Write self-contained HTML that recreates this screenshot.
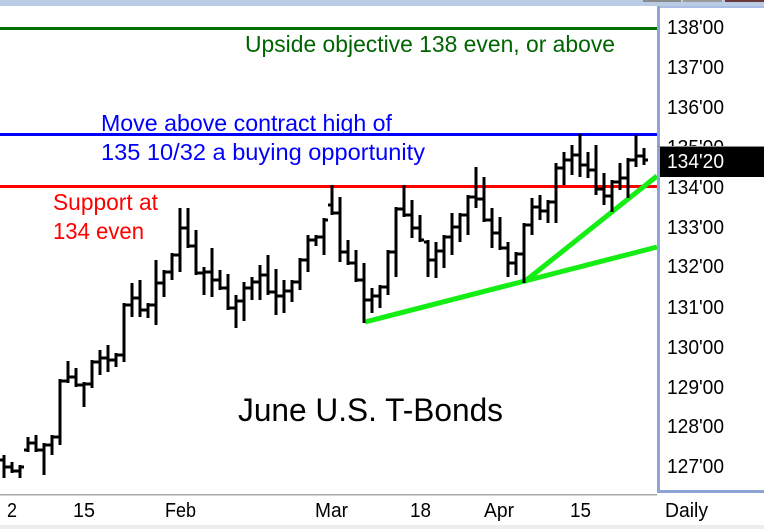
<!DOCTYPE html>
<html>
<head>
<meta charset="utf-8">
<style>
html,body{margin:0;padding:0;background:#fff;}
svg{display:block;}
text{font-family:"Liberation Sans",sans-serif;}
</style>
</head>
<body>
<svg width="764" height="529" viewBox="0 0 764 529" xmlns="http://www.w3.org/2000/svg">
<rect x="0" y="0" width="764" height="529" fill="#ffffff"/>
<rect x="0" y="0" width="764" height="6" fill="#b9cce4"/>
<rect x="643" y="0" width="38" height="2" fill="#8a8a8a"/>
<rect x="683" y="0" width="39" height="2" fill="#9a9a9a"/>
<rect x="725" y="0" width="39" height="2" fill="#6a3838"/>

<rect x="0" y="27" width="657" height="3" fill="#007000"/>
<rect x="0" y="133" width="657" height="3" fill="#0000ff"/>
<rect x="0" y="185" width="657" height="3" fill="#ff0000"/>

<text x="245" y="52" font-size="23" fill="#006400" textLength="370" lengthAdjust="spacingAndGlyphs">Upside objective 138 even, or above</text>
<text x="101" y="131" font-size="23" fill="#0000ff" textLength="291" lengthAdjust="spacingAndGlyphs">Move above contract high of</text>
<text x="101" y="160" font-size="23" fill="#0000ff" textLength="324" lengthAdjust="spacingAndGlyphs">135 10/32 a buying opportunity</text>
<text x="53" y="210" font-size="23" fill="#ff0000" textLength="105" lengthAdjust="spacingAndGlyphs">Support at</text>
<text x="53" y="239" font-size="23" fill="#ff0000" textLength="91" lengthAdjust="spacingAndGlyphs">134 even</text>
<text x="238" y="421" font-size="32" fill="#000000" textLength="265" lengthAdjust="spacingAndGlyphs">June U.S. T-Bonds</text>

<line x1="365" y1="322" x2="657" y2="247" stroke="#14ee14" stroke-width="5"/>
<line x1="524" y1="282" x2="657" y2="176" stroke="#14ee14" stroke-width="5"/>

<path fill="none" stroke="#000" stroke-width="3" shape-rendering="crispEdges" d="M4 455V478M0 460H4M4 467H8 M12 462V473M8 467H12M12 471H16 M20 465V478M16 471H20M20 467H24 M28 437V452M24 450H28M28 443H32 M36 435V452M32 443H36M36 450H40 M44 443V475M40 450H44M44 445H48 M52 435V455M48 445H52M52 437H56 M60 379V445M56 437H60M60 381H64 M68 361V383M64 381H68M68 377H72 M76 368V387M72 377H76M76 385H80 M84 382V407M80 385H84M84 384H88 M92 360V388M88 384H92M92 362H96 M100 350V375M96 362H100M100 358H104 M108 345V372M104 358H108M108 360H112 M116 353V367M112 360H116M116 355H120 M124 303V362M120 355H124M124 305H128 M132 283V317M128 305H132M132 298H136 M140 280V317M136 298H140M140 310H144 M148 303V318M144 310H148M148 305H152 M156 260V325M152 305H156M156 283H160 M164 270V297M160 283H164M164 272H168 M172 253V280M168 272H172M172 255H176 M180 208V272M176 255H180M180 228H184 M188 208V248M184 228H188M188 246H192 M196 230V275M192 246H196M196 273H200 M204 267V295M200 273H204M204 272H208 M212 248V297M208 272H212M212 280H216 M220 270V290M216 280H220M220 288H224 M228 274V310M224 288H228M228 308H232 M236 295V328M232 308H236M236 301H240 M244 282V321M240 301H244M244 288H248 M252 277V300M248 288H252M252 282H256 M260 265V300M256 282H260M260 275H264 M268 255V295M264 275H268M268 292H272 M276 269V315M272 292H276M276 296H280 M284 280V313M280 296H284M284 291H288 M292 280V302M288 291H292M292 282H296 M300 258V290M296 282H300M300 260H304 M308 235V272M304 260H308M308 240H312 M316 235V246M312 240H316M316 237H320 M324 218V255M320 237H324M324 220H328 M332 185V215M328 205H332M332 213H336 M340 197V262M336 213H340M340 252H344 M348 240V265M344 252H348M348 263H352 M356 250V282M352 263H356M356 280H360 M364 263V323M360 280H364M364 300H368 M372 288V313M368 300H372M372 296H376 M380 285V308M376 296H380M380 287H384 M388 250V295M384 287H388M388 252H392 M396 207V277M392 252H396M396 209H400 M404 185V217M400 209H404M404 215H408 M412 200V238M408 215H412M412 228H416 M420 215V242M416 228H420M420 240H424 M428 240V277M424 242H428M428 260H432 M436 242V278M432 260H436M436 251H440 M444 235V268M440 251H444M444 237H448 M452 213V255M448 237H452M452 227H456 M460 213V242M456 227H460M460 215H464 M468 195V235M464 215H468M468 197H472 M476 167V208M472 197H476M476 199H480 M484 177V222M480 199H484M484 220H488 M492 208V248M488 220H492M492 233H496 M500 217V250M496 233H500M500 248H504 M508 242V277M504 248H508M508 263H512 M516 252V275M512 263H516M516 254H520 M524 223V283M520 254H524M524 225H528 M532 198V235M528 225H532M532 207H536 M540 195V220M536 207H540M540 211H544 M548 200V223M544 211H548M548 202H552 M556 163V223M552 202H556M556 168H560 M564 152V185M560 168H564M564 160H568 M572 145V175M568 160H572M572 155H576 M580 134V177M576 155H580M580 165H584 M588 152V178M584 165H588M588 170H592 M596 145V195M592 170H596M596 189H600 M604 173V205M600 189H604M604 196H608 M612 180V212M608 196H612M612 182H616 M620 163V190M616 182H620M620 178H624 M628 158V198M624 178H628M628 160H632 M636 135V167M632 160H636M636 156H640 M644 148V165M640 156H644M644 160H648"/>

<rect x="660" y="8" width="104" height="482" fill="#ffffff"/>
<rect x="657" y="6" width="107" height="2" fill="#a9bce4"/>
<rect x="657" y="6" width="3" height="487" fill="#8ea3d6"/>
<rect x="657" y="490" width="107" height="3" fill="#8ea3d6"/>

<g font-size="20" fill="#000">
<text x="667" y="34" textLength="57" lengthAdjust="spacingAndGlyphs">138'00</text>
<text x="667" y="74" textLength="57" lengthAdjust="spacingAndGlyphs">137'00</text>
<text x="667" y="114" textLength="57" lengthAdjust="spacingAndGlyphs">136'00</text>
<text x="667" y="154" textLength="57" lengthAdjust="spacingAndGlyphs">135'00</text>
<text x="667" y="194" textLength="57" lengthAdjust="spacingAndGlyphs">134'00</text>
<text x="667" y="234" textLength="57" lengthAdjust="spacingAndGlyphs">133'00</text>
<text x="667" y="273" textLength="57" lengthAdjust="spacingAndGlyphs">132'00</text>
<text x="667" y="314" textLength="57" lengthAdjust="spacingAndGlyphs">131'00</text>
<text x="667" y="354" textLength="57" lengthAdjust="spacingAndGlyphs">130'00</text>
<text x="667" y="394" textLength="57" lengthAdjust="spacingAndGlyphs">129'00</text>
<text x="667" y="433" textLength="57" lengthAdjust="spacingAndGlyphs">128'00</text>
<text x="667" y="473" textLength="57" lengthAdjust="spacingAndGlyphs">127'00</text>
</g>

<rect x="657" y="146" width="107" height="1" fill="#8a8a8a"/>
<rect x="660" y="147" width="104" height="30" fill="#000"/>
<text x="667" y="168" font-size="20" fill="#fff" textLength="57" lengthAdjust="spacingAndGlyphs">134'20</text>

<rect x="0" y="494" width="657" height="1.5" fill="#a8a8a8"/>
<g font-size="20" fill="#000">
<text x="7" y="517" textLength="10" lengthAdjust="spacingAndGlyphs">2</text>
<text x="73" y="517" textLength="22" lengthAdjust="spacingAndGlyphs">15</text>
<text x="165" y="517" textLength="31" lengthAdjust="spacingAndGlyphs">Feb</text>
<text x="315" y="517" textLength="33" lengthAdjust="spacingAndGlyphs">Mar</text>
<text x="410" y="517" textLength="21" lengthAdjust="spacingAndGlyphs">18</text>
<text x="484" y="517" textLength="30" lengthAdjust="spacingAndGlyphs">Apr</text>
<text x="570" y="517" textLength="21" lengthAdjust="spacingAndGlyphs">15</text>
<text x="665" y="517" textLength="43" lengthAdjust="spacingAndGlyphs">Daily</text>
</g>
<rect x="0" y="525" width="764" height="4" fill="#ededed"/>
</svg>
</body>
</html>
